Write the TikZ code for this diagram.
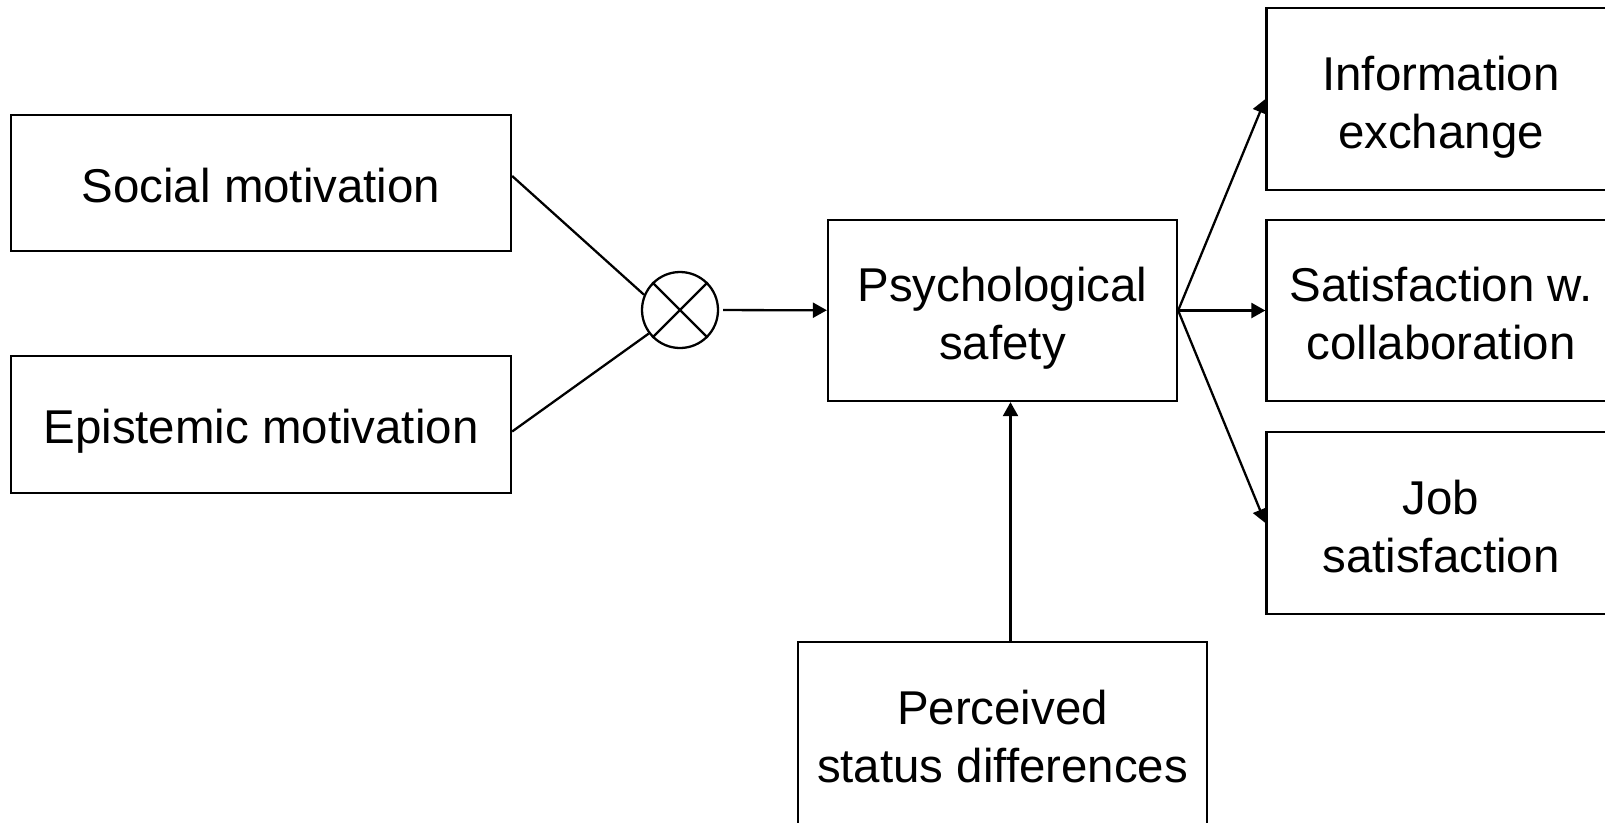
\documentclass[tikz,border=0pt]{standalone}
\usepackage{fontspec}
\setmainfont{Liberation Sans}
\usepackage{tikz}
\usetikzlibrary{arrows.meta}
\usetikzlibrary{shapes}
\usetikzlibrary{positioning}
\tikzset{
  MyBox/.style={
    rectangle, draw=black, line width=1.3pt,
    minimum width=6.98cm, minimum height=3.64cm,
    align=center, inner sep=0pt,
    text height=61.5pt, text depth=5.7pt,
    font=\fontsize{27}{33}\selectfont,
  },
  MyOne/.style={MyBox, text height=22pt, text depth=0pt},
  MyLine/.style={line width=1.3pt},
  MyArrow/.style={MyLine, -{Triangle[length=0.28cm, width=0.3cm]}},
}

\begin{document}
\begin{tikzpicture}
\useasboundingbox (0,0) rectangle (32.1,-16.44);
\node[MyOne, minimum width=10cm, minimum height=2.72cm] (SOC) at (5.22,-3.66) {Social motivation};
\node[MyOne, minimum width=10cm, minimum height=2.74cm] (EPI) at (5.22,-8.49) {Epistemic motivation};
\node[circle, draw, line width=1.3pt, minimum size=1.52cm, inner sep=0pt] (MULT) at (13.6,-6.2) {};
\draw[MyLine] (MULT.45) to (MULT.225);
\draw[MyLine] (MULT.135) to (MULT.315);
\node[MyBox, minimum height=3.62cm] (PSY) at (20.05,-6.21) {Psychological\\safety};
\node[MyBox] (INF) at (28.82,-1.98) {Information\\exchange};
\node[MyBox, minimum height=3.62cm] (SAT) at (28.82,-6.21) {Satisfaction w.\\collaboration};
\node[MyBox] (JOB) at (28.82,-10.46) {Job\\satisfaction};
\node[MyBox, minimum width=8.18cm] (PER) at (20.05,-14.66) {Perceived\\status differences};
\draw[MyLine] ([yshift=0.14cm]SOC.east) to (MULT.157);
\draw[MyLine] ([yshift=-0.14cm]EPI.east) to (MULT.217);
\draw[MyArrow, shorten <=0.08cm] (MULT) to (PSY);
\draw[MyArrow] (PSY.east) to (INF.west);
\draw[MyArrow] (PSY.east) to (SAT.west);
\draw[MyArrow] (PSY.east) to (JOB.west);
\draw[MyArrow] ([xshift=0.16cm]PER.north) to ([xshift=0.16cm]PSY.south);
\end{tikzpicture}
\end{document}
